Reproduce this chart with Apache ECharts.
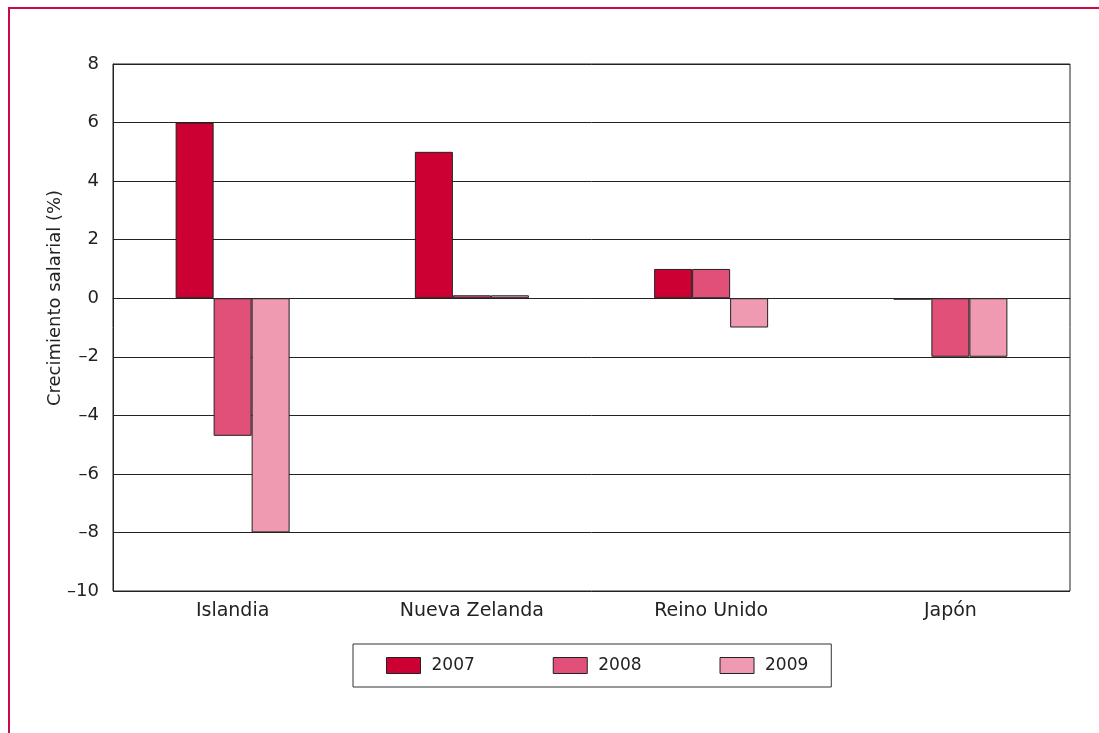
<!DOCTYPE html>
<html>
<head>
<meta charset="utf-8">
<script src="https://cdn.jsdelivr.net/npm/echarts@6/dist/echarts.min.js"></script>
<style>
  html, body { margin: 0; padding: 0; background: #fff; }
  #chart { width: 1099px; height: 733px; }
</style>
</head>
<body>
<div id="chart"></div>
<script>
const categories = ['Islandia', 'Nueva Zelanda', 'Reino Unido', 'Japón']
const years = ['2007', '2008', '2009']
const v2007 = [6, 5, 1, -0.05]
const v2008 = [-4.7, 0.1, 1, -2]
const v2009 = [-8, 0.1, -1, -2]
const colors = ['#cc0033', '#e05078', '#ef9ab0']

const fontFamily = '"DejaVu Sans", sans-serif'

const chart = echarts.init(document.getElementById('chart'))

const series = [v2007, v2008, v2009].map((data, i) => {
  return {
    name: years[i],
    type: 'bar',
    data: data,
    barWidth: 38,
    barGap: '0%',
    itemStyle: { color: colors[i], borderColor: '#222', borderWidth: 1 }
  }
})

const option = {
  animation: false,
  textStyle: { fontFamily: fontFamily },
  graphic: [
    {
      type: 'rect',
      shape: { x: 9, y: 8, width: 1200, height: 800 },
      style: { fill: 'none', stroke: '#cc0a45', lineWidth: 2 }
    },
    {
      type: 'text',
      x: 55,
      y: 298,
      rotation: Math.PI / 2,
      style: {
        text: 'Crecimiento salarial (%)',
        font: '18px ' + fontFamily,
        fill: '#222',
        align: 'center',
        verticalAlign: 'middle'
      }
    }
  ],
  grid: {
    left: 113, right: 29, top: 64, bottom: 142,
    show: true, borderColor: '#222', borderWidth: 1
  },
  legend: {
    bottom: 46,
    left: 353,
    itemWidth: 34,
    itemHeight: 16,
    itemGap: 78,
    icon: 'rect',
    padding: [13, 23, 13, 33],
    borderColor: '#333',
    borderWidth: 1,
    textStyle: { fontSize: 17, color: '#222', fontFamily: fontFamily, padding: [0, 0, 0, 6] },
    itemStyle: { borderColor: '#222', borderWidth: 1 },
    data: years
  },
  xAxis: {
    type: 'category',
    data: categories,
    axisLine: { lineStyle: { color: '#222' } },
    axisTick: { length: 12, lineStyle: { color: '#222' } },
    axisLabel: { fontSize: 19, color: '#222', margin: 11 }
  },
  yAxis: {
    type: 'value',
    min: -10,
    max: 8,
    interval: 2,
    axisLine: { show: true, lineStyle: { color: '#222' } },
    axisTick: { show: false },
    splitLine: { lineStyle: { color: '#222', width: 1 } },
    axisLabel: {
      fontSize: 18,
      color: '#222',
      margin: 14,
      formatter: v => v < 0 ? '\u2013' + Math.abs(v) : String(v)
    }
  },
  series: series
}

chart.setOption(option)
</script>
</body>
</html>
